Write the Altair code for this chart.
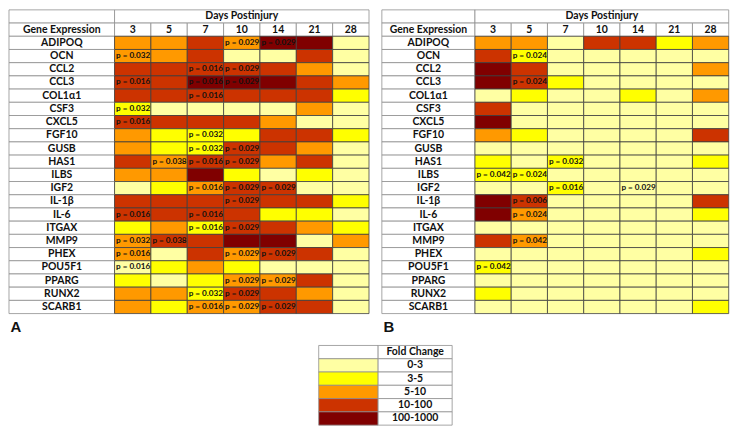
import altair as alt
import pandas as pd

# ---------------- data ----------------
genes = ["ADIPOQ", "OCN", "CCL2", "CCL3", "COL1α1", "CSF3", "CXCL5", "FGF10", "GUSB",
         "HAS1", "ILBS", "IGF2", "IL-1β", "IL-6", "ITGAX", "MMP9", "PHEX", "POU5F1",
         "PPARG", "RUNX2", "SCARB1"]
days = ["3", "5", "7", "10", "14", "21", "28"]
fold_labels = ["0-3", "3-5", "5-10", "10-100", "100-1000"]
fold_colors = ["#FFFFA3", "#FFFF00", "#FF9900", "#CC3300", "#800000"]

# fold-change class (index into fold_labels) per gene (rows) and day (columns)
levels_a = [
    [2, 2, 3, 2, 4, 4, 0],  # ADIPOQ
    [2, 2, 3, 0, 0, 3, 0],  # OCN
    [3, 3, 3, 3, 3, 2, 0],  # CCL2
    [3, 3, 4, 4, 4, 3, 2],  # CCL3
    [3, 3, 3, 3, 3, 3, 1],  # COL1a1
    [1, 0, 0, 0, 0, 2, 0],  # CSF3
    [3, 3, 3, 3, 2, 0, 0],  # CXCL5
    [2, 1, 1, 1, 3, 3, 1],  # FGF10
    [2, 1, 1, 3, 3, 2, 0],  # GUSB
    [3, 2, 3, 3, 2, 3, 0],  # HAS1
    [2, 2, 4, 1, 0, 1, 0],  # ILBS
    [0, 1, 2, 3, 3, 0, 0],  # IGF2
    [3, 3, 3, 3, 3, 3, 1],  # IL-1b
    [3, 3, 3, 3, 1, 1, 0],  # IL-6
    [1, 2, 1, 3, 3, 2, 1],  # ITGAX
    [2, 3, 3, 4, 4, 0, 2],  # MMP9
    [2, 0, 3, 2, 3, 3, 0],  # PHEX
    [0, 1, 2, 1, 0, 0, 0],  # POU5F1
    [1, 0, 1, 2, 2, 3, 0],  # PPARG
    [2, 2, 1, 3, 3, 2, 0],  # RUNX2
    [2, 1, 2, 2, 3, 3, 0],  # SCARB1
]
pvals_a = [
    ["", "", "", "0.029", "0.029", "", ""],
    ["0.032", "", "", "", "", "", ""],
    ["", "", "0.016", "0.029", "", "", ""],
    ["0.016", "", "0.016", "0.029", "", "", ""],
    ["", "", "0.016", "", "", "", ""],
    ["0.032", "", "", "", "", "", ""],
    ["0.016", "", "", "", "", "", ""],
    ["", "", "0.032", "", "", "", ""],
    ["", "", "0.032", "0.029", "", "", ""],
    ["", "0.038", "0.016", "0.029", "", "", ""],
    ["", "", "", "", "", "", ""],
    ["", "", "0.016", "0.029", "0.029", "", ""],
    ["", "", "", "0.029", "", "", ""],
    ["0.016", "", "0.016", "", "", "", ""],
    ["", "", "0.016", "0.029", "", "", ""],
    ["0.032", "0.038", "", "", "", "", ""],
    ["0.016", "", "", "0.029", "0.029", "", ""],
    ["0.016", "", "", "", "", "", ""],
    ["", "", "", "0.029", "0.029", "", ""],
    ["", "", "0.032", "0.029", "", "", ""],
    ["", "", "0.016", "0.029", "0.029", "", ""],
]
levels_b = [
    [2, 2, 0, 3, 3, 1, 2],  # ADIPOQ
    [3, 1, 0, 0, 0, 0, 0],  # OCN
    [4, 3, 0, 0, 0, 0, 2],  # CCL2
    [4, 3, 1, 0, 0, 0, 0],  # CCL3
    [0, 1, 0, 0, 1, 0, 2],  # COL1a1
    [3, 0, 0, 0, 0, 0, 0],  # CSF3
    [4, 0, 0, 0, 0, 0, 0],  # CXCL5
    [2, 1, 0, 0, 0, 0, 3],  # FGF10
    [0, 0, 0, 0, 0, 0, 0],  # GUSB
    [1, 0, 1, 0, 0, 0, 1],  # HAS1
    [1, 1, 0, 0, 0, 0, 0],  # ILBS
    [0, 0, 1, 0, 0, 0, 0],  # IGF2
    [4, 3, 0, 0, 0, 0, 3],  # IL-1b
    [4, 2, 0, 0, 0, 0, 1],  # IL-6
    [0, 0, 0, 0, 0, 0, 0],  # ITGAX
    [3, 2, 0, 0, 0, 0, 0],  # MMP9
    [0, 0, 0, 0, 0, 0, 1],  # PHEX
    [1, 0, 0, 0, 0, 0, 0],  # POU5F1
    [0, 0, 0, 0, 0, 0, 0],  # PPARG
    [1, 0, 0, 0, 0, 0, 0],  # RUNX2
    [0, 0, 0, 0, 0, 0, 1],  # SCARB1
]
pvals_b = [
    ["", "", "", "", "", "", ""],
    ["", "0.024", "", "", "", "", ""],
    ["", "", "", "", "", "", ""],
    ["", "0.024", "", "", "", "", ""],
    ["", "", "", "", "", "", ""],
    ["", "", "", "", "", "", ""],
    ["", "", "", "", "", "", ""],
    ["", "", "", "", "", "", ""],
    ["", "", "", "", "", "", ""],
    ["", "", "0.032", "", "", "", ""],
    ["0.042", "0.024", "", "", "", "", ""],
    ["", "", "0.016", "", "0.029", "", ""],
    ["", "0.006", "", "", "", "", ""],
    ["", "0.024", "", "", "", "", ""],
    ["", "", "", "", "", "", ""],
    ["", "0.042", "", "", "", "", ""],
    ["", "", "", "", "", "", ""],
    ["0.042", "", "", "", "", "", ""],
    ["", "", "", "", "", "", ""],
    ["", "", "", "", "", "", ""],
    ["", "", "", "", "", "", ""],
]

# ---------------- styling / layout ----------------
FONT = "Lato"
ROW_H = 13.26
HDR_STROKE = "#8f8f8f"
GRID_STROKE = "#3f3f3f"
N_ROWS = len(genes) + 2


def build_table(levels, pvals, label_px, col_px, title):
    L = label_px / col_px  # label column width in day-column units
    nd = len(days)
    rects, ctext, ltext = [], [], []
    # header row 0
    rects.append(dict(x0=0, x1=L, y0=0, y1=1, fill="white", stroke=HDR_STROKE))
    rects.append(dict(x0=L, x1=L + nd, y0=0, y1=1, fill="white", stroke=HDR_STROKE))
    ctext.append(dict(tx=L + nd / 2, ty=0.5, text="Days Postinjury"))
    # header row 1
    rects.append(dict(x0=0, x1=L, y0=1, y1=2, fill="white", stroke=HDR_STROKE))
    ctext.append(dict(tx=L / 2, ty=1.5, text="Gene Expression"))
    for j, d in enumerate(days):
        rects.append(dict(x0=L + j, x1=L + j + 1, y0=1, y1=2, fill="white", stroke=HDR_STROKE))
        ctext.append(dict(tx=L + j + 0.5, ty=1.5, text=d))
    for i, g in enumerate(genes):
        r = i + 2
        rects.append(dict(x0=0, x1=L, y0=r, y1=r + 1, fill="white", stroke=HDR_STROKE))
        ctext.append(dict(tx=L / 2, ty=r + 0.5, text=g))
        for j in range(nd):
            rects.append(dict(x0=L + j, x1=L + j + 1, y0=r, y1=r + 1,
                              fill=fold_colors[levels[i][j]], stroke=GRID_STROKE))
            if pvals[i][j]:
                ltext.append(dict(tx=L + j, ty=r + 0.5, text="p = " + pvals[i][j]))
    xs = alt.Scale(domain=[0, L + nd], nice=False, zero=False)
    ys = alt.Scale(domain=[0, N_ROWS], nice=False, zero=False, reverse=True)
    base_rect = alt.Chart(pd.DataFrame(rects)).mark_rect(strokeWidth=0.8).encode(
        x=alt.X("x0:Q", scale=xs, axis=None), x2="x1:Q",
        y=alt.Y("y0:Q", scale=ys, axis=None), y2="y1:Q",
        fill=alt.Fill("fill:N", scale=None),
        stroke=alt.Stroke("stroke:N", scale=None),
    )
    center = alt.Chart(pd.DataFrame(ctext)).mark_text(
        font=FONT, fontWeight="bold", fontSize=10.5, baseline="middle", align="center",
        color="#111"
    ).encode(x=alt.X("tx:Q", scale=xs), y=alt.Y("ty:Q", scale=ys), text="text:N")
    left = alt.Chart(pd.DataFrame(ltext)).mark_text(
        font=FONT, fontWeight="bold", fontSize=8.2, baseline="middle", align="left",
        dx=1.5, color="#111"
    ).encode(x=alt.X("tx:Q", scale=xs), y=alt.Y("ty:Q", scale=ys), text="text:N")
    width = (L + nd) * col_px
    return alt.layer(base_rect, center, left).properties(
        width=width, height=N_ROWS * ROW_H,
        title=alt.TitleParams(title, orient="bottom", anchor="start", font="Liberation Sans",
                              fontSize=15, fontWeight="bold", offset=6, dx=2, color="#111"),
    )


table_a = build_table(levels_a, pvals_a, 106.0, 36.5, "A")
table_b = build_table(levels_b, pvals_b, 93.5, 36.4, "B")

# legend table
SW, TW = 61.0, 76.0
lrects, ltexts = [], []
lrects.append(dict(x0=0, x1=SW, y0=0, y1=1, fill="white"))
lrects.append(dict(x0=SW, x1=SW + TW, y0=0, y1=1, fill="white"))
ltexts.append(dict(tx=SW + TW / 2, ty=0.5, text="Fold Change"))
for k, (lab, col) in enumerate(zip(fold_labels, fold_colors)):
    lrects.append(dict(x0=0, x1=SW, y0=k + 1, y1=k + 2, fill=col))
    lrects.append(dict(x0=SW, x1=SW + TW, y0=k + 1, y1=k + 2, fill="white"))
    ltexts.append(dict(tx=SW + TW / 2, ty=k + 1.5, text=lab))
lxs = alt.Scale(domain=[0, SW + TW], nice=False, zero=False)
lys = alt.Scale(domain=[0, 6], nice=False, zero=False, reverse=True)
legend_rect = alt.Chart(pd.DataFrame(lrects)).mark_rect(stroke=HDR_STROKE, strokeWidth=0.8).encode(
    x=alt.X("x0:Q", scale=lxs, axis=None), x2="x1:Q",
    y=alt.Y("y0:Q", scale=lys, axis=None), y2="y1:Q",
    fill=alt.Fill("fill:N", scale=None),
)
legend_text = alt.Chart(pd.DataFrame(ltexts)).mark_text(
    font=FONT, fontWeight="bold", fontSize=10.5, baseline="middle", align="center", color="#111"
).encode(x=alt.X("tx:Q", scale=lxs), y=alt.Y("ty:Q", scale=lys), text="text:N")
legend = alt.layer(legend_rect, legend_text).properties(width=134, height=80)

spacer = alt.Chart(pd.DataFrame({"v": [0]})).mark_text(text="").encode(
    x=alt.value(0), y=alt.value(0)
).properties(width=309.7, height=1)

top = alt.hconcat(table_a, table_b, spacing=11.4)
bottom = alt.hconcat(spacer, legend, spacing=0)
chart = alt.vconcat(top, bottom, spacing=4).configure_view(stroke=None).properties(
    padding=0, background="white"
)

chart.save("out.html", embed_options={"renderer": "svg", "actions": False})
